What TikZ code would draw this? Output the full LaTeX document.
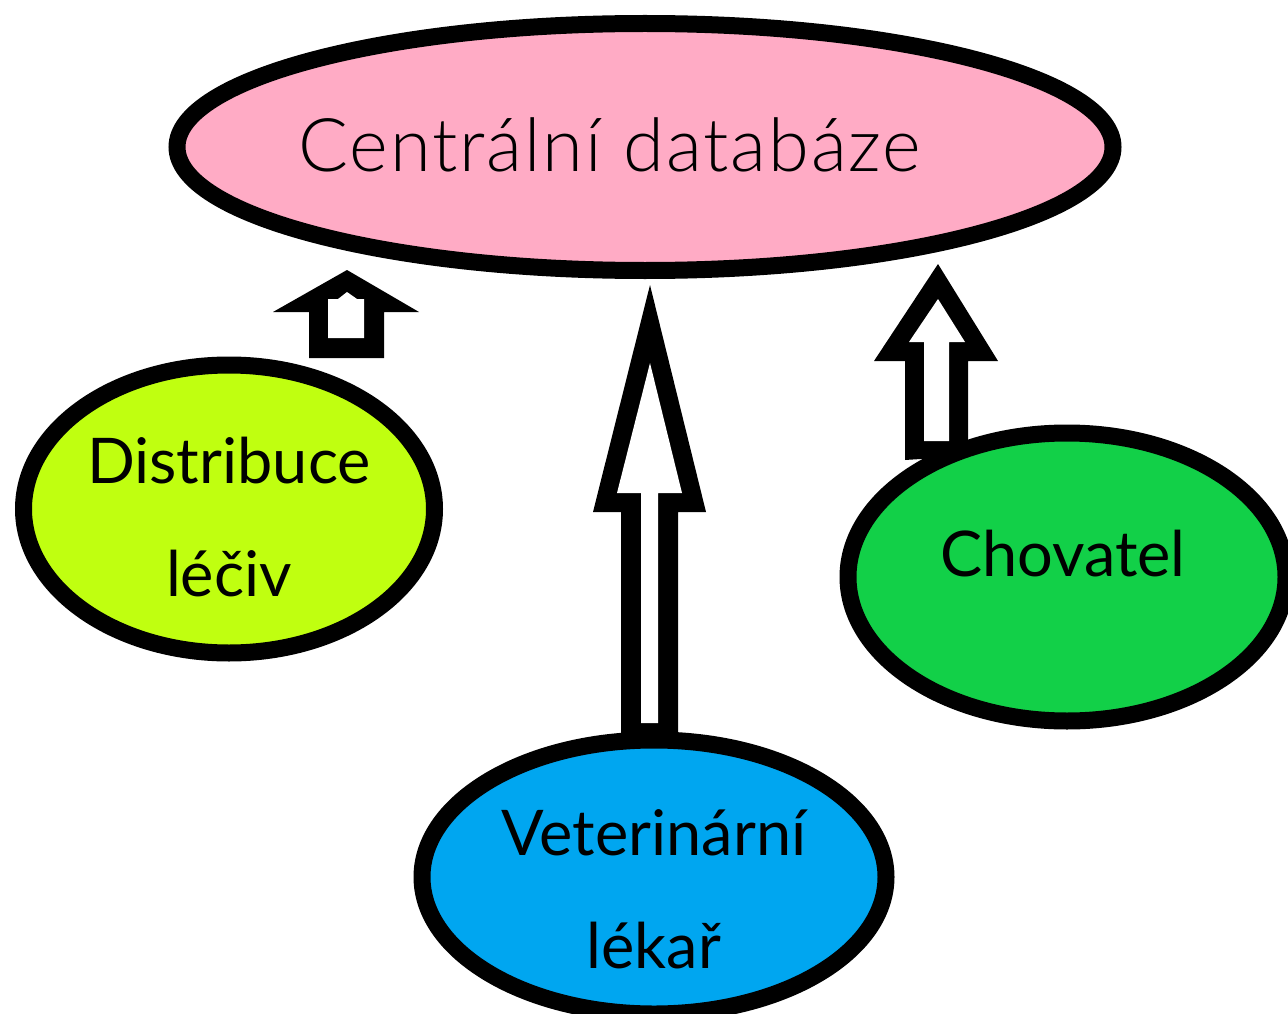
\documentclass[tikz,border=0pt]{standalone}
\usepackage{fontspec}
\setmainfont{Lato}
\newfontfamily\dblightfont[LetterSpace=2.5]{Lato Light}
\usetikzlibrary{shapes.geometric}
\definecolor{dbpink}{RGB}{255,171,197}
\definecolor{distlime}{RGB}{192,255,16}
\definecolor{chovgreen}{RGB}{18,208,72}
\definecolor{vetblue}{RGB}{0,166,240}
\begin{document}
\begin{tikzpicture}[x=1pt,y=-1pt,
        bubble/.style={ellipse, draw=black, line width=17pt, inner sep=0pt},
        lbl/.style={align=center, inner sep=0pt, font=\fontsize{63}{113}\selectfont}]
            \useasboundingbox (0,0) rectangle (1288,1014);
            % the four ellipses
            \node[bubble, fill=dbpink, minimum width=936pt, minimum height=247pt] (db) at (645,147) {};
            \node[bubble, fill=distlime, minimum width=411pt, minimum height=288pt] (dist) at (229,509) {};
            \node[bubble, fill=chovgreen, minimum width=438pt, minimum height=288pt] (chov) at (1067,577) {};
            \node[bubble, fill=vetblue, minimum width=464pt, minimum height=274pt] (vet) at (654,877) {};
            \node[inner sep=0pt, font=\dblightfont\fontsize{74}{89}\selectfont] (dbtext) at (610,145) {Centrální databáze};
            \node[lbl] (disttext) at (229,517) {Distribuce\\léčiv};
            \node[lbl] (chovtext) at (1063,554) {Chovatel};
            \node[lbl] (vettext) at (654,889) {Veterinární\\lékař};
            % hollow arrows
            \fill[black] (347,270) -- (419,312) -- (384,312) -- (384,358) -- (309,358) -- (309,312) -- (273,312) -- cycle;
            \fill[white] (328,338) -- (328,299) -- (338,299) -- (347,292) -- (357,299) -- (364,299) -- (364,338) -- cycle;
            \fill[black] (650,285) -- (706,512) -- (678,512) -- (678,733) -- (621,733) -- (621,512) -- (593,512) -- cycle;
            \fill[white] (650,363) -- (682,493) -- (658,493) -- (658,723) -- (641,723) -- (641,493) -- (617,493) -- cycle;
            \fill[black] (938,264) -- (998,361) -- (968,361) -- (968,456) -- (905,460) -- (905,361) -- (874,361) -- cycle;
            \fill[white] (938,299) -- (965,342) -- (949,342) -- (949,441) -- (924,441) -- (924,342) -- (909,342) -- cycle;
        \end{tikzpicture}
\end{document}
